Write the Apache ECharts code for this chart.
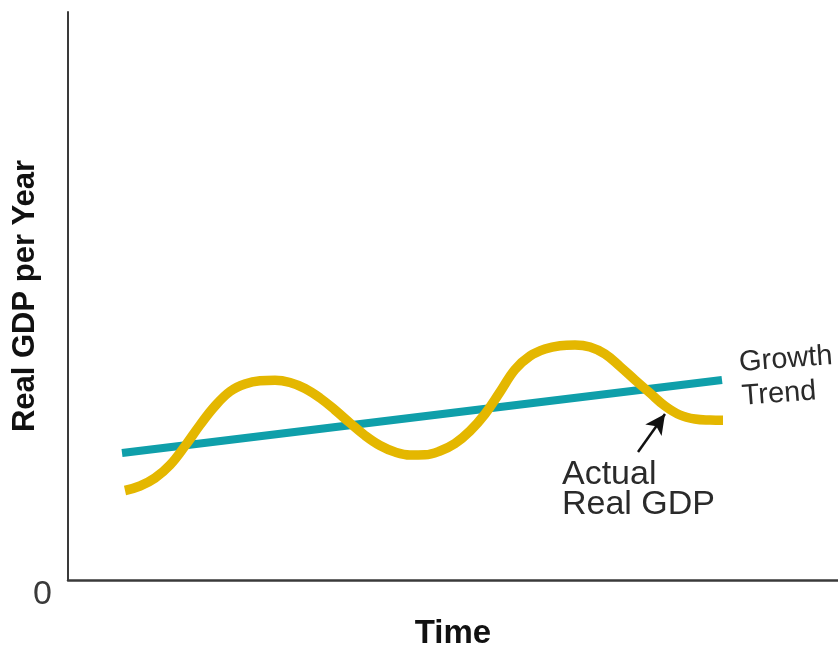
<!DOCTYPE html>
<html>
<head>
<meta charset="utf-8">
<style>
  html, body { margin: 0; padding: 0; background: #fff; }
  #chart { width: 838px; height: 647px; }
</style>
<script src="https://cdn.jsdelivr.net/npm/echarts@6/dist/echarts.min.js"></script>
</head>
<body>
<div id="chart"></div>
<script>
// Time (x) and real GDP (y) in plot units; the origin is the axes corner.
const trendX = [54, 654];
const trendY = [127, 200];

const actualX = [57, 72, 87, 102, 117, 132, 147, 162, 177, 192, 207, 222, 237, 252, 267, 282, 297, 312, 327, 342, 357, 372, 387, 402, 417, 432, 447, 462, 477, 492, 507, 522, 537, 552, 567, 582, 597, 612, 627, 642, 655];
const actualY = [89.5, 94, 102, 115, 134, 155, 174, 188.5, 196, 199.3, 199.8, 197.5, 191.5, 182, 170, 157, 144.5, 134.5, 128, 125, 125.2, 129, 136.5, 149, 166, 188, 210.5, 224, 231, 234.3, 235, 233, 226, 213.5, 200, 187, 174, 165, 161, 160, 159.8];

// Arrow pointing from the "Actual Real GDP" note to the curve
const arrowFrom = [570, 128];
const arrowTo = [597, 166];

const yTickLabels = ['0'];

const trendData = trendX.map((x, i) => [x, trendY[i]]);
const actualData = actualX.map((x, i) => [x, actualY[i]]);

const chart = echarts.init(document.getElementById('chart'));
const FONT = '"Liberation Sans", Arial, Helvetica, sans-serif';

chart.setOption({
  animation: false,
  grid: {
    left: 68, right: 0, top: 12, bottom: 67,
    containLabel: false, outerBoundsMode: 'none'
  },
  xAxis: {
    type: 'value', min: 0, max: 770,
    name: 'Time', nameLocation: 'middle', nameGap: 37, nameMoveOverlap: false,
    nameTextStyle: { fontFamily: FONT, fontSize: 33, fontWeight: 'bold', color: '#111' },
    axisLine: { show: true, onZero: false, lineStyle: { color: '#3a3a3a', width: 2.5 } },
    axisTick: { show: false }, axisLabel: { show: false }, splitLine: { show: false }
  },
  yAxis: {
    type: 'value', min: 0, max: 568, interval: 568,
    name: 'Real GDP per Year', nameLocation: 'middle', nameGap: 27, nameRotate: 90,
    nameMoveOverlap: false,
    nameTextStyle: { fontFamily: FONT, fontSize: 31, fontWeight: 'bold', color: '#111' },
    axisLine: { show: true, lineStyle: { color: '#3a3a3a', width: 2 } },
    axisTick: { show: false },
    axisLabel: {
      formatter: v => (v === 0 ? yTickLabels[0] : ''),
      fontFamily: FONT, fontSize: 34, color: '#3a3a3a', margin: 16,
      verticalAlign: 'top', lineHeight: 30
    },
    splitLine: { show: false }
  },
  series: [
    {
      name: 'Growth Trend', type: 'line', data: trendData,
      symbol: 'none', lineStyle: { color: '#0f9faa', width: 8, cap: 'butt' },
      z: 2
    },
    {
      name: 'Actual Real GDP', type: 'line', data: actualData,
      symbol: 'none', smooth: 0.4,
      lineStyle: { color: '#e4b700', width: 9.5, cap: 'butt' },
      z: 3,
      markLine: {
        silent: true,
        symbol: ['none', 'arrow'], symbolSize: [15, 20],
        lineStyle: { color: '#111', width: 2.5, type: 'solid' },
        label: { show: false },
        data: [[{ coord: arrowFrom }, { coord: arrowTo }]]
      }
    }
  ],
  graphic: [
    {
      type: 'text', left: 738, top: 339, rotation: 0.075,
      style: { text: 'Growth\nTrend', font: '29px ' + FONT, fill: '#2a2a2a', lineHeight: 34 }
    },
    {
      type: 'text', left: 562, top: 458,
      style: { text: 'Actual\nReal GDP', font: '34px ' + FONT, fill: '#2a2a2a', lineHeight: 30 }
    }
  ]
});
</script>
</body>
</html>
